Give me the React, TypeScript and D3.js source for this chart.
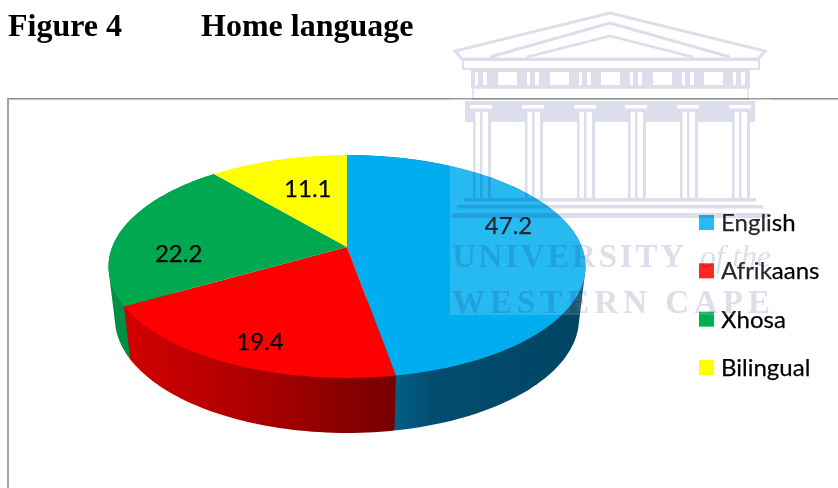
import React from "react";
import * as d3 from "d3";

const categories = ["English", "Afrikaans", "Xhosa", "Bilingual"];
const values = [47.2, 19.4, 22.2, 11.1];
const faceColors = ["#00aeef", "#ff0000", "#00a94f", "#ffff00"];
const legendColors = ["#00b0f0", "#ff0000", "#00b050", "#ffff00"];
const labelNudges: [number, number][] = [[11, -15], [-15, 24], [-21, 19], [8, 2]];

const W = 838, H = 488;
// perspective disc
const CX = 347, CY = 247, A = 234.8, B = 108, K = 0.175;
const project = (angle: number, rho = 1): [number, number] => {
  const u = Math.sin(angle) * rho, v = -Math.cos(angle) * rho;
  const w = 1 - K * v;
  return [CX + (A * u) / w, CY + (B * v) / w];
};
const lowered = ([x, y]: [number, number]): [number, number] => [
  CX + 0.973 * (x - CX),
  318 + 1.027 * (y - 266),
];
const samples = (a0: number, a1: number) => {
  const n = Math.max(8, Math.ceil((a1 - a0) * 40));
  return d3.range(n + 1).map((i) => a0 + ((a1 - a0) * i) / n);
};
const path = d3.line<[number, number]>().x((d) => d[0]).y((d) => d[1]);

const WM = "#dcdeeb";
const columnsX = [473, 525, 577, 628, 680, 732];
const frieze = [498, 550, 601, 653, 704];

function Temple() {
  return (
    <g style={{ mixBlendMode: "multiply" }}>
      {/* pediment */}
      <g fill="none" stroke={WM} strokeWidth={3}>
        <path d="M610 13 L455 51 L462 59 L758 59 L765 51 Z" />
        <path d="M610 23 L490 57 M610 23 L730 57" />
        <path d="M610 36 L527 57 M610 36 L693 57" strokeWidth={2.5} />
      </g>
      <rect x={463} y={60} width={296} height={9} fill="#fff" stroke={WM} strokeWidth={2} />
      {/* frieze */}
      <rect x={471} y={70} width={279} height={18} fill={WM} />
      {[474, 526, 578, 629, 681, 732].map((x) => (
        <g key={x}>
          <rect x={x + 1} y={72} width={3} height={13} fill="#fff" />
          <rect x={x + 9} y={72} width={4} height={13} fill="#fff" />
        </g>
      ))}
      {frieze.map((x) => (
        <rect key={x} x={x} y={72} width={19} height={13} fill="#fff" />
      ))}
      <rect x={473} y={88} width={275} height={11} fill="#fff" stroke={WM} strokeWidth={1.5} />
      {/* cornice */}
      <rect x={465} y={101} width={290} height={21} fill={WM} />
      {columnsX.map((x) => (
        <rect key={x} x={x - 3} y={105} width={22} height={3.5} fill="#fff" />
      ))}
      {/* columns */}
      {columnsX.map((x) => (
        <g key={x}>
          <rect x={x} y={111} width={18} height={88} fill={WM} />
          <rect x={x + 2.5} y={112} width={4.5} height={87} fill="#fff" />
          <rect x={x + 9.5} y={112} width={5.5} height={87} fill="#fff" />
        </g>
      ))}
      {/* steps */}
      <rect x={464} y={198} width={292} height={3.5} fill={WM} />
      <rect x={457} y={205} width={306} height={3.5} fill={WM} />
      <rect x={452} y={213} width={316} height={5} fill={WM} />
      <text x={452} y={267} textLength={232} fontFamily="'Liberation Serif'" fontWeight={700} fontSize={33} fill={WM}>UNIVERSITY</text>
      <text x={700} y={267} textLength={71} fontFamily="'Liberation Serif'" fontStyle="italic" fontSize={32} fill={WM}>of the</text>
      <text x={452} y={313} textLength={318} fontFamily="'Liberation Serif'" fontWeight={700} fontSize={33} fill={WM}>WESTERN CAPE</text>
    </g>
  );
}

export default function App() {
  const arcs = d3.pie<number>().sort(null)(values);
  const wall = (a0: number, a1: number) => {
    const top = samples(a0, a1).map((a) => project(a));
    const hull = d3.polygonHull([...top, ...top.map(lowered)])!;
    return path(hull)! + "Z";
  };
  const face = (a0: number, a1: number) =>
    path([project(0, 0), ...samples(a0, a1).map((a) => project(a))])! + "Z";
  const wallFill = ["url(#wallBlue)", "url(#wallRed)", "#008f43", "#b5b500"];
  const wallOrder = [2, 0, 1];
  return (
    <svg width={W} height={H} viewBox={`0 0 ${W} ${H}`} style={{ position: "absolute", left: 0, top: 0, background: "#fff" }}>
      <defs>
        <linearGradient id="wallRed" gradientUnits="userSpaceOnUse" x1={125} x2={395} y1={0} y2={0}>
          <stop offset="0" stopColor="#d20000" />
          <stop offset="0.45" stopColor="#ae0000" />
          <stop offset="1" stopColor="#760000" />
        </linearGradient>
        <linearGradient id="wallBlue" gradientUnits="userSpaceOnUse" x1={395} x2={585} y1={0} y2={0}>
          <stop offset="0" stopColor="#015f86" />
          <stop offset="0.2" stopColor="#014d6f" />
          <stop offset="1" stopColor="#014463" />
        </linearGradient>
      </defs>
      <path d={`M8 488 V98.7 H${W}`} fill="none" stroke="#8c8c8c" strokeWidth={1.6} />
      <text x={8} y={36} fontFamily="'Liberation Serif'" fontWeight={700} fontSize={32} fill="#000">Figure 4</text>
      <text x={201} y={36} fontFamily="'Liberation Serif'" fontWeight={700} fontSize={32} fill="#000">Home language</text>

      {wallOrder.map((i) => (
        <path key={`w${i}`} d={wall(arcs[i].startAngle, arcs[i].endAngle)} fill={wallFill[i]} />
      ))}
      {arcs.map((d, i) => (
        <path key={`f${i}`} d={face(d.startAngle, d.endAngle)} fill={faceColors[i]} />
      ))}
      {arcs.map((d, i) => {
        const [x, y] = project((d.startAngle + d.endAngle) / 2, 0.65);
        return (
          <text key={`l${i}`} x={x + labelNudges[i][0]} y={y + labelNudges[i][1] + 8} textAnchor="middle" fontFamily="Lato" fontSize={24} fill="#000" stroke="#000" strokeWidth={0.25}>
            {values[i]}
          </text>
        );
      })}
      {categories.map((c, i) => {
        const y = d3.scaleLinear().domain([0, 3]).range([215, 360])(i);
        return (
          <g key={c}>
            <rect x={699} y={y} width={15} height={15} fill={legendColors[i]} />
            <text x={721} y={y + 16} fontFamily="Lato" fontSize={24} fill="#000" stroke="#000" strokeWidth={0.25}>{c}</text>
          </g>
        );
      })}
      <rect x={450} y={0} width={320} height={315} fill="#fff" fillOpacity={0.15} />
      <Temple />
    </svg>
  );
}
